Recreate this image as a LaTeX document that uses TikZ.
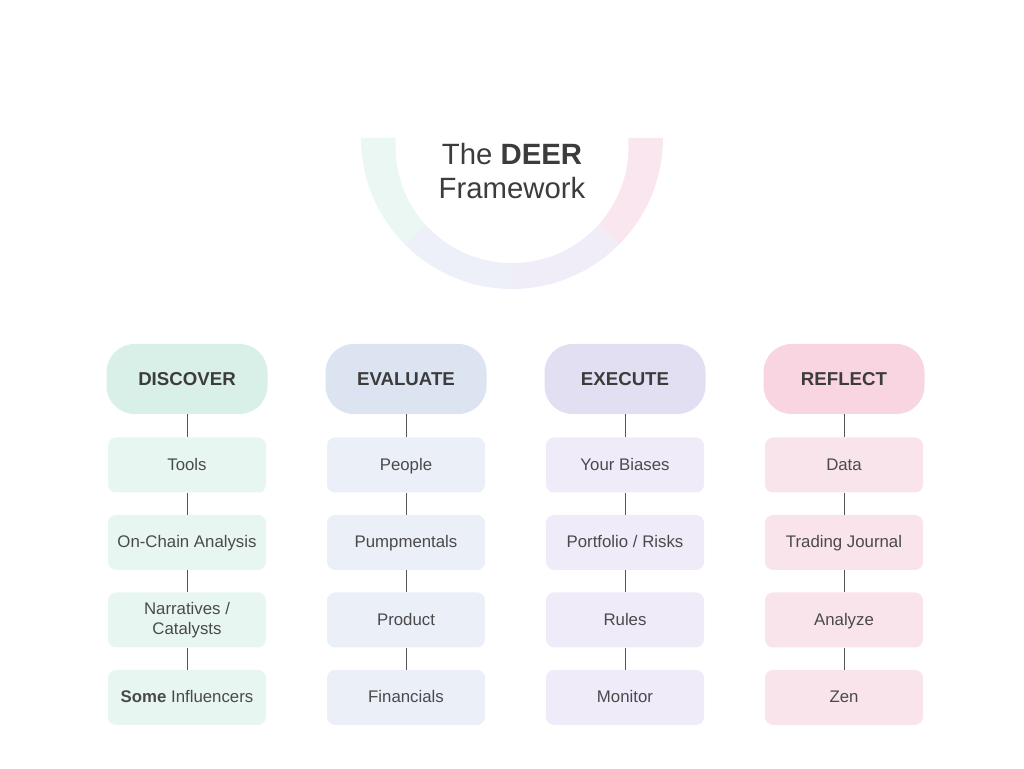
\documentclass[tikz,border=0pt]{standalone}
\usepackage{fontspec}
\setmainfont{Liberation Sans}
\usepackage{xcolor}
\definecolor{discoverhead}{HTML}{D9F0E9}
\definecolor{discoveritem}{HTML}{E8F6F1}
\definecolor{evaluatehead}{HTML}{DCE4F1}
\definecolor{evaluateitem}{HTML}{EAEFF8}
\definecolor{executehead}{HTML}{E2DFF3}
\definecolor{executeitem}{HTML}{EFEBF9}
\definecolor{reflecthead}{HTML}{F8D5E1}
\definecolor{reflectitem}{HTML}{FAE4EC}
\definecolor{ringgreen}{HTML}{EAF7F2}
\definecolor{ringblue}{HTML}{EDF0F9}
\definecolor{ringpurple}{HTML}{F0EDF9}
\definecolor{ringpink}{HTML}{FAE6EE}
\definecolor{headtext}{HTML}{3C3C3C}
\definecolor{itemtext}{HTML}{4A4A4A}
\definecolor{linegray}{HTML}{555555}
\tikzstyle{stage} = [rectangle, rounded corners=21pt, minimum width=120.75pt, minimum height=52.5pt, text centered, text=headtext, font=\fontsize{14}{16}\selectfont\bfseries]
\tikzstyle{item} = [rectangle, rounded corners=6pt, minimum width=118.5pt, minimum height=41.25pt, align=center, text height=10.9pt, text depth=2.7pt, text=itemtext, font=\fontsize{12.6}{15}\selectfont]
\tikzstyle{link} = [line width=0.75pt, draw=linegray]

\begin{document}
\begin{tikzpicture}[x=0.75pt, y=0.75pt, node distance=58.1pt]
    \useasboundingbox (0,0) rectangle (1024,768);

    % ring under the title
    \fill [ringgreen] (512,630) -- ++(180:151) arc (180:225:151) -- cycle;
    \fill [ringblue] (512,630) -- ++(225:151) arc (225:270:151) -- cycle;
    \fill [ringpurple] (512,630) -- ++(270:151) arc (270:315:151) -- cycle;
    \fill [ringpink] (512,630) -- ++(315:151) arc (315:360:151) -- cycle;
    \fill [white] (512,621.5) circle (116.5);
    \node (title) [align=center, text=headtext, font=\fontsize{22}{25}\selectfont] at (512,597) {The \textbf{DEER}\\Framework};

    \node (discover) [stage, fill=discoverhead] at (187,389) {DISCOVER};
    \node (tools) [item, fill=discoveritem, below of=discover, yshift=-6.4pt] {Tools};
    \node (onchain) [item, fill=discoveritem, below of=tools] {On-Chain Analysis};
    \node (narratives) [item, fill=discoveritem, below of=onchain, text height={}, text depth={}] {Narratives /\\Catalysts};
    \node (influencers) [item, fill=discoveritem, below of=narratives] {\textbf{Some} Influencers};

    \node (evaluate) [stage, fill=evaluatehead] at (406,389) {EVALUATE};
    \node (people) [item, fill=evaluateitem, below of=evaluate, yshift=-6.4pt] {People};
    \node (pumpmentals) [item, fill=evaluateitem, below of=people] {Pumpmentals};
    \node (product) [item, fill=evaluateitem, below of=pumpmentals] {Product};
    \node (financials) [item, fill=evaluateitem, below of=product] {Financials};

    \node (execute) [stage, fill=executehead] at (625,389) {EXECUTE};
    \node (biases) [item, fill=executeitem, below of=execute, yshift=-6.4pt] {Your Biases};
    \node (portfolio) [item, fill=executeitem, below of=biases] {Portfolio / Risks};
    \node (rules) [item, fill=executeitem, below of=portfolio] {Rules};
    \node (monitor) [item, fill=executeitem, below of=rules] {Monitor};

    \node (reflect) [stage, fill=reflecthead] at (844,389) {REFLECT};
    \node (data) [item, fill=reflectitem, below of=reflect, yshift=-6.4pt] {Data};
    \node (journal) [item, fill=reflectitem, below of=data] {Trading Journal};
    \node (analyze) [item, fill=reflectitem, below of=journal] {Analyze};
    \node (zen) [item, fill=reflectitem, below of=analyze] {Zen};

    \draw [link] (discover) -- (tools);
    \draw [link] (tools) -- (onchain);
    \draw [link] (onchain) -- (narratives);
    \draw [link] (narratives) -- (influencers);
    \draw [link] (evaluate) -- (people);
    \draw [link] (people) -- (pumpmentals);
    \draw [link] (pumpmentals) -- (product);
    \draw [link] (product) -- (financials);
    \draw [link] (execute) -- (biases);
    \draw [link] (biases) -- (portfolio);
    \draw [link] (portfolio) -- (rules);
    \draw [link] (rules) -- (monitor);
    \draw [link] (reflect) -- (data);
    \draw [link] (data) -- (journal);
    \draw [link] (journal) -- (analyze);
    \draw [link] (analyze) -- (zen);
\end{tikzpicture}
\end{document}
